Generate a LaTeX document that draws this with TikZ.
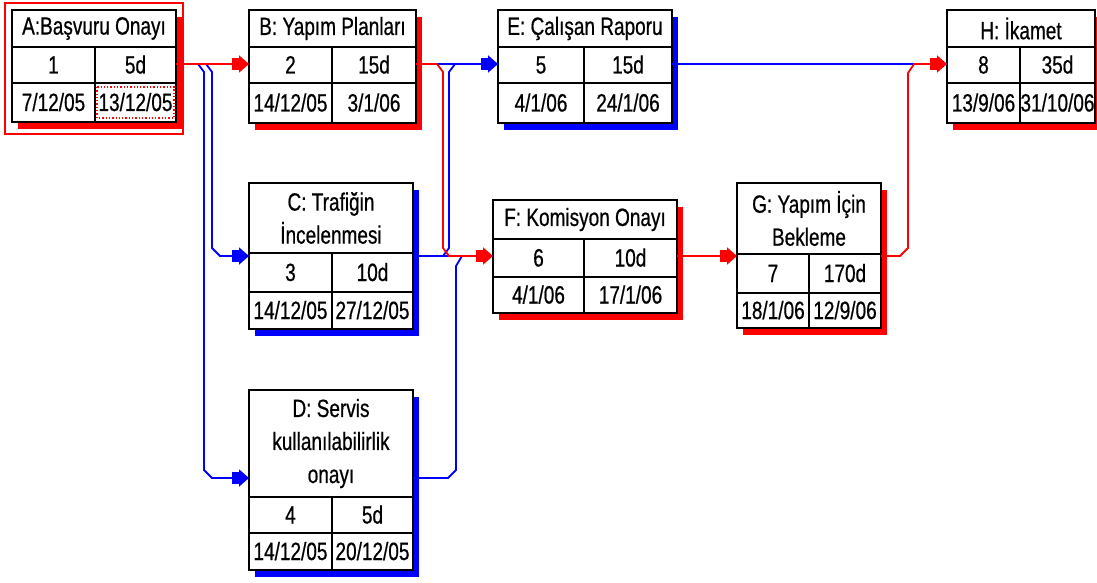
\documentclass[tikz,border=0pt]{standalone}
\usepackage{fontspec}
\setmainfont{Liberation Sans}[FakeStretch=0.76, FakeBold=0.6]
\usetikzlibrary{arrows.meta,calc}

\tikzset{
  boxline/.style={line width=2pt, draw=black},
  txt/.style={inner sep=0pt, font=\fontsize{25}{33}\selectfont},
  cell/.style={txt, text height=17pt, text depth=0pt},
  head/.style={txt, align=center},
  crit/.style={draw=red, line width=1.8pt},
  noncrit/.style={draw=blue, line width=1.8pt},
  tip/.style={-{Square[length=7pt,width=12pt]Triangle[length=10pt,width=17pt]}},
}

% #1 name, #2 left, #3 middle divider, #4 right, #5 top, #6 header bottom,
% #7 row divider, #8 bottom, #9 shadow colour
\newcommand\taskbox[9]{%
  \fill[#9] ({#2+6},{#5+7}) rectangle ({#4+6},{#8+7});
  \node[boxline, fill=white, inner sep=0pt, outer sep=0pt, anchor=north west,
        minimum width={(#4-#2)*1pt}, minimum height={(#8-#5)*1pt}] (#1) at (#2,#5) {};
  \draw[boxline] (#2,#6) -- (#4,#6) (#2,#7) -- (#4,#7) (#3,#6) -- (#3,#8);
  \coordinate (#1-h) at ({(#2+#4)/2},{(#5+#6)/2});
  \coordinate (#1-a) at ({(#2+#3)/2},{(#6+#7)/2});
  \coordinate (#1-b) at ({(#3+#4)/2},{(#6+#7)/2});
  \coordinate (#1-c) at ({(#2+#3)/2},{(#7+#8)/2});
  \coordinate (#1-d) at ({(#3+#4)/2},{(#7+#8)/2});
}
% #1 name, #2 title, #3 id, #4 duration, #5 start, #6 finish
\newcommand\tasktext[6]{%
  \node[head] (#1-title) at (#1-h) {#2};
  \node[cell] (#1-id)    at (#1-a) {#3};
  \node[cell] (#1-dur)   at (#1-b) {#4};
  \node[cell] (#1-start) at (#1-c) {#5};
  \node[cell] (#1-end)   at (#1-d) {#6};
}

\begin{document}
\begin{tikzpicture}[x=1pt, y=-1pt]
\useasboundingbox (0,0) rectangle (1097,583);

% task boxes
\taskbox{A}{12}{95}{176}{10}{47}{83}{122}{red}
\taskbox{B}{249}{332}{416}{10}{47}{83}{123}{red}
\taskbox{E}{498}{584}{672}{10}{47}{83}{123}{blue}
\taskbox{H}{947}{1020}{1095}{10}{47}{83}{123}{red}
\taskbox{C}{249}{332}{413}{183}{253}{292}{329}{blue}
\taskbox{F}{493}{584}{677}{200}{239}{277}{313}{red}
\taskbox{G}{737}{809}{881}{183}{254}{293}{328}{red}
\taskbox{D}{249}{332}{413}{390}{497}{533}{570}{blue}

\tasktext{A}{A:Başvuru Onayı}{1}{5d}{7/12/05}{13/12/05}
\tasktext{B}{B: Yapım Planları}{2}{15d}{14/12/05}{3/1/06}
\tasktext{E}{E: Çalışan Raporu}{5}{15d}{4/1/06}{24/1/06}
\tasktext{H}{H: İkamet}{8}{35d}{13/9/06}{31/10/06}
\tasktext{C}{C: Trafiğin\\İncelenmesi}{3}{10d}{14/12/05}{27/12/05}
\tasktext{F}{F: Komisyon Onayı}{6}{10d}{4/1/06}{17/1/06}
\tasktext{G}{G: Yapım İçin\\Bekleme}{7}{170d}{18/1/06}{12/9/06}
\tasktext{D}{D: Servis\\kullanılabilirlik\\onayı}{4}{5d}{14/12/05}{20/12/05}

% selection marks on the first task
\draw[red, line width=1.3pt] (5,3) rectangle (183,134);
\draw[red, line width=1.3pt, dotted] (97,87) rectangle (174,118);

% connector levels
\coordinate (top) at (0,64);
\coordinate (mid) at (0,256);
\coordinate (low) at (0,478);

% non-critical links
\draw[noncrit, tip] (A.east |- top) -- (206,64) -- (212,72) -- (212,248) -- (220,256) -- (C.west |- mid);
\draw[noncrit, tip] (A.east |- top) -- (198,64) -- (204,72) -- (204,470) -- (212,478) -- (D.west |- low);
\draw[noncrit, tip] (B.east |- top) -- (E.west |- top);
\draw[noncrit] (C.east |- mid) -- (443,256) -- (449,248) -- (449,72) -- (455,64) -- (E.west |- top);
\draw[noncrit] (C.east |- mid) -- (F.west |- mid);
\draw[noncrit] (D.east |- low) -- (448,478) -- (456,470) -- (456,266) -- (462,256) -- (F.west |- mid);
\draw[noncrit] (E.east |- top) -- (H.west |- top);

% critical path
\draw[crit, tip] (A.east |- top) -- (B.west |- top);
\draw[crit, tip] (B.east |- top) -- (437,64) -- (443,72) -- (443,248) -- (449,256) -- (F.west |- mid);
\draw[crit, tip] (F.east |- mid) -- (G.west |- mid);
\draw[crit, tip] (G.east |- mid) -- (900,256) -- (908,248) -- (908,73) -- (914,64) -- (H.west |- top);
\end{tikzpicture}
\end{document}
